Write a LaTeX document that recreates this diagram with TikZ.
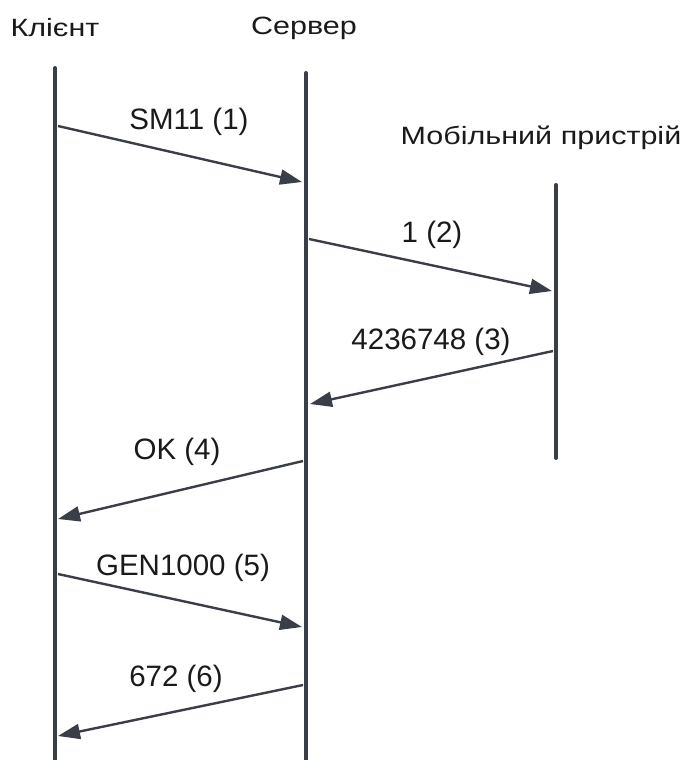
\documentclass[tikz,border=0pt]{standalone}
\usepackage{fontspec}
\setmainfont{Liberation Sans}
\newfontfamily\hdrfont{Liberation Sans}[FakeStretch=1.22]
\usetikzlibrary{arrows.meta}
\definecolor{ln}{HTML}{3A3E47}
\definecolor{tx}{HTML}{1A1A1A}
\begin{document}
\begin{tikzpicture}[x=1pt,y=-1pt,
  life/.style={line width=4pt, draw=ln, line cap=round},
  msg/.style={line width=2.4pt, draw=ln, -{Triangle[length=22pt,width=15pt]}},
  hdr/.style={font=\hdrfont\fontsize{25}{29}\selectfont, text=tx, inner sep=0pt, anchor=base},
  lbl/.style={font=\fontsize{29.5}{34}\selectfont, text=tx, inner sep=0pt, anchor=base}]
\useasboundingbox[fill=white] (0,0) rectangle (687,760);
% headers
\node[hdr] (hc) at (55,36.5) {Клієнт};
\node[hdr] (hs) at (304,35) {Сервер};
\node[hdr] (hm) at (541,144) {Мобільний пристрій};
% lifelines
\coordinate (ct) at (55,68);  \coordinate (cb) at (55,762);
\coordinate (st) at (306,73); \coordinate (sb) at (306,762);
\coordinate (mt) at (556,185); \coordinate (mb) at (556,458);
\draw[life] (ct) -- (cb);
\draw[life] (st) -- (sb);
\draw[life] (mt) -- (mb);
% message points
\coordinate (a1) at (58,126);  \coordinate (b1) at (302,182);
\coordinate (a2) at (309,239); \coordinate (b2) at (552,291);
\coordinate (a3) at (553,351); \coordinate (b3) at (310,404);
\coordinate (a4) at (303,461); \coordinate (b4) at (58,519);
\coordinate (a5) at (58,574);  \coordinate (b5) at (302,627);
\coordinate (a6) at (303,685); \coordinate (b6) at (58,736);
\draw[msg] (a1) -- (b1);
\draw[msg] (a2) -- (b2);
\draw[msg] (a3) -- (b3);
\draw[msg] (a4) -- (b4);
\draw[msg] (a5) -- (b5);
\draw[msg] (a6) -- (b6);
% labels
\node[lbl] (l1) at (189,129) {SM11 (1)};
\node[lbl] (l2) at (432,242) {1 (2)};
\node[lbl] (l3) at (431,349) {4236748 (3)};
\node[lbl] (l4) at (177,459) {OK (4)};
\node[lbl] (l5) at (183,575) {GEN1000 (5)};
\node[lbl] (l6) at (176,686) {672 (6)};
\end{tikzpicture}
\end{document}
